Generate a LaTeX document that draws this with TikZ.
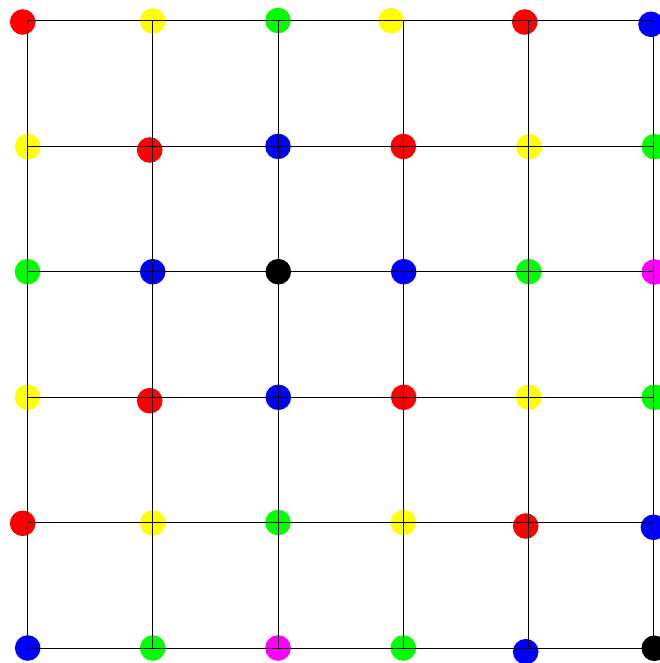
\documentclass[tikz,border=0pt]{standalone}
\usetikzlibrary{positioning}
\definecolor{cred}{RGB}{255,0,0}
\definecolor{cyel}{RGB}{255,255,0}
\definecolor{cgrn}{RGB}{0,255,0}
\definecolor{cblu}{RGB}{0,0,255}
\definecolor{cmag}{RGB}{255,0,255}
\definecolor{cblk}{RGB}{0,0,0}
\tikzset{
  dot/.style={circle,inner sep=0pt,minimum size=25.6pt,draw=none,fill=#1},
  gridline/.style={draw=black,line width=1pt}
}
\begin{document}
\begin{tikzpicture}[x=1pt,y=-1pt]
\useasboundingbox (0,0) rectangle (659,663);
\fill[white] (0,0) rectangle (659,663);
% grid points
\foreach \i in {0,...,5}{
  \foreach \j in {0,...,5}{
    \coordinate (g\i\j) at ({27.4+125.3*\i},{21+125.4*\j});
  }
}
% dots (column, row)
\node[dot=cred] (d00) at (22.7,22) {};
\node[dot=cyel] (d10) at (152.7,21) {};
\node[dot=cgrn] (d20) at (278,20.5) {};
\node[dot=cyel] (d30) at (391,20.7) {};
\node[dot=cred] (d40) at (524.7,22) {};
\node[dot=cblu] (d50) at (651,24.3) {};
\node[dot=cyel] (d01) at (27.7,146.7) {};
\node[dot=cred] (d11) at (149.7,150) {};
\node[dot=cblu] (d21) at (278,146.4) {};
\node[dot=cred] (d31) at (403.3,146.5) {};
\node[dot=cyel] (d41) at (529,146.7) {};
\node[dot=cgrn] (d51) at (654.5,146.7) {};
\node[dot=cgrn] (d02) at (27.5,271.7) {};
\node[dot=cblu] (d12) at (152.7,271.7) {};
\node[dot=cblk] (d22) at (278.3,271.7) {};
\node[dot=cblu] (d32) at (403.7,271.7) {};
\node[dot=cgrn] (d42) at (528.7,271.7) {};
\node[dot=cmag] (d52) at (654.3,272) {};
\node[dot=cyel] (d03) at (27.5,397.2) {};
\node[dot=cred] (d13) at (149.7,400.7) {};
\node[dot=cblu] (d23) at (278.3,397.3) {};
\node[dot=cred] (d33) at (403.7,397.3) {};
\node[dot=cyel] (d43) at (528.7,397.2) {};
\node[dot=cgrn] (d53) at (654.3,397.3) {};
\node[dot=cred] (d04) at (22.7,523.3) {};
\node[dot=cyel] (d14) at (152.7,523) {};
\node[dot=cgrn] (d24) at (278,522.5) {};
\node[dot=cyel] (d34) at (403.3,522.5) {};
\node[dot=cred] (d44) at (525.7,526) {};
\node[dot=cblu] (d54) at (653.4,527.3) {};
\node[dot=cblu] (d05) at (27.7,648) {};
\node[dot=cgrn] (d15) at (152.7,648) {};
\node[dot=cmag] (d25) at (278,648) {};
\node[dot=cgrn] (d35) at (403.3,648) {};
\node[dot=cblu] (d45) at (525.7,651.7) {};
\node[dot=cblk] (d55) at (654.3,648.3) {};
% grid lines on top
\foreach \k in {0,...,5}{
  \draw[gridline] (g0\k) -- (g5\k);
  \draw[gridline] (g\k0) -- (g\k5);
}
\end{tikzpicture}
\end{document}
